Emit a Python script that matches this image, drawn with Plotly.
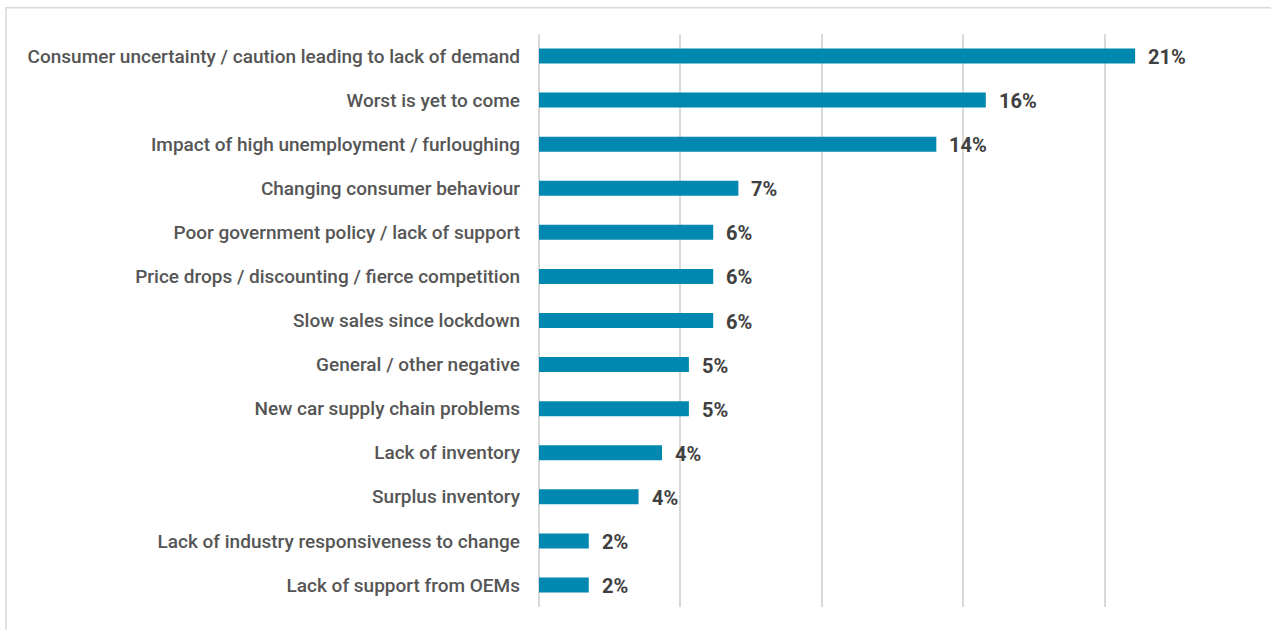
import plotly.graph_objects as go

# Reasons cited, share of respondents (%)
categories = [
    "Consumer uncertainty / caution leading to lack of demand",
    "Worst is yet to come",
    "Impact of high unemployment / furloughing",
    "Changing consumer behaviour",
    "Poor government policy / lack of support",
    "Price drops / discounting / fierce competition",
    "Slow sales since lockdown",
    "General / other negative",
    "New car supply chain problems",
    "Lack of inventory",
    "Surplus inventory",
    "Lack of industry responsiveness to change",
    "Lack of support from OEMs",
]
shares = [21.08, 15.8, 14.05, 7.05, 6.16, 6.16, 6.16, 5.3, 5.3, 4.35, 3.52, 1.76, 1.76]

BAR_COLOR = "#0088B0"
GRID_COLOR = "#D9D9D9"
NARROW = "Liberation Sans Narrow, Arial Narrow, Roboto, sans-serif"

fig = go.Figure(
    go.Bar(
        x=shares,
        y=categories,
        orientation="h",
        marker=dict(color=BAR_COLOR, line=dict(width=0)),
        width=0.34,
        hoverinfo="skip",
    )
)

# value labels to the right of each bar
for cat, val in zip(categories, shares):
    fig.add_annotation(
        x=val, y=cat, xref="x", yref="y",
        text=f"<b>{round(val):d}%</b>",
        showarrow=False, xanchor="left", yanchor="middle",
        xshift=11, yshift=-1,
        font=dict(family=NARROW, size=20, color="#404040"),
    )

# light frame around the whole chart
fig.add_shape(
    type="rect", xref="paper", yref="paper",
    x0=-0.754, x1=1.08, y0=-0.1, y1=1.046,
    line=dict(color=GRID_COLOR, width=1.5), fillcolor="rgba(0,0,0,0)",
    layer="below",
)

fig.update_layout(
    width=1271, height=630,
    margin=dict(l=539, r=25, t=34, b=23),
    paper_bgcolor="white", plot_bgcolor="white",
    showlegend=False,
    bargap=0.66,
    xaxis=dict(
        range=[0, 25], dtick=5, tick0=0,
        showgrid=True, gridcolor=GRID_COLOR, gridwidth=1.5,
        zeroline=True, zerolinecolor=GRID_COLOR, zerolinewidth=1.5,
        showticklabels=False, showline=False, fixedrange=True,
    ),
    yaxis=dict(
        autorange="reversed",
        showgrid=False, zeroline=False, showline=False,
        ticks="", ticklabelstandoff=18,
        tickfont=dict(family=NARROW, size=19, color="#555555", weight=500),
        fixedrange=True,
    ),
)

fig.write_html("out.html")
